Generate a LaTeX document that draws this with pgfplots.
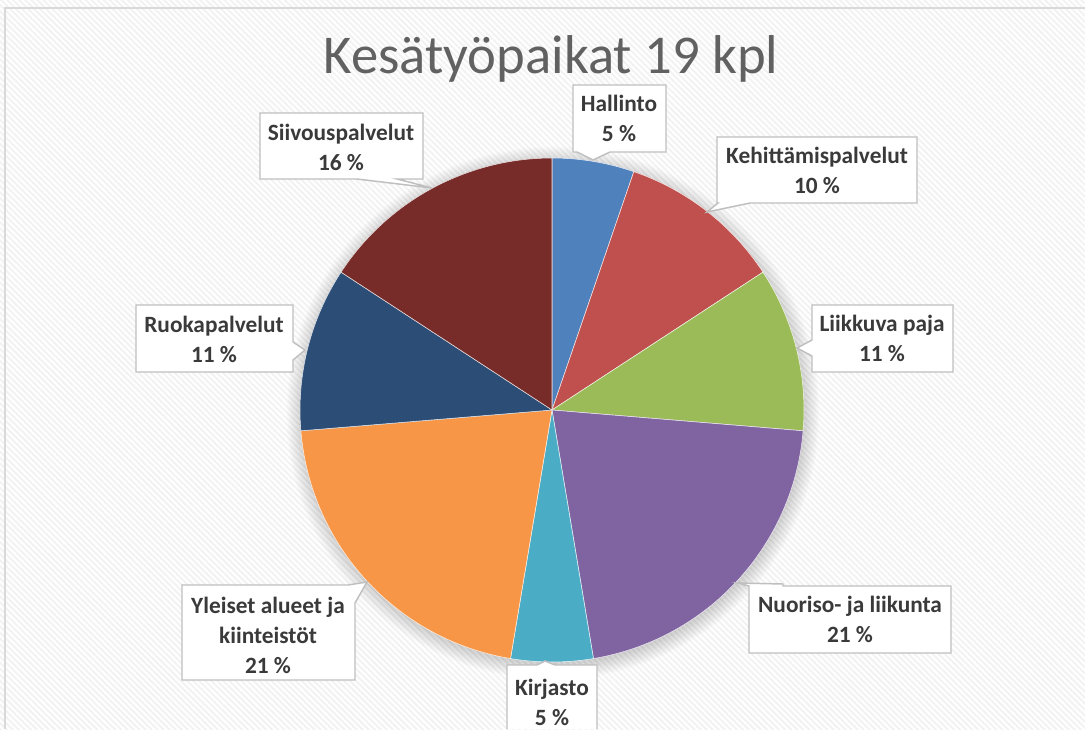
\documentclass[border=0pt]{standalone}
\usepackage{pgfplots}
\pgfplotsset{compat=1.18}
\usepackage{pgfplotstable}
\usepackage{fontspec}
\setmainfont{Carlito}
\usetikzlibrary{patterns.meta}

\definecolor{cHal}{HTML}{4F81BD}
\definecolor{cKeh}{HTML}{C0504D}
\definecolor{cLii}{HTML}{9BBB59}
\definecolor{cNuo}{HTML}{8064A2}
\definecolor{cKir}{HTML}{4BACC6}
\definecolor{cYle}{HTML}{F79646}
\definecolor{cRuo}{HTML}{2C4D75}
\definecolor{cSii}{HTML}{772C2A}
\definecolor{boxline}{HTML}{BFBFBF}
\definecolor{labeltext}{HTML}{3A3A3A}

% jobs per unit, clockwise from 12 o'clock
\pgfplotstableread[col sep=comma]{
name,count,colour
Hallinto,1,cHal
Kehittämispalvelut,2,cKeh
Liikkuva paja,2,cLii
Nuoriso- ja liikunta,4,cNuo
Kirjasto,1,cKir
Yleiset alueet ja kiinteistöt,4,cYle
Ruokapalvelut,2,cRuo
Siivouspalvelut,3,cSii
}\piedata

\tikzset{
  callout/.style={fill=white, draw=boxline, line width=1.1pt, line join=miter},
  lbl/.style={align=center, text=labeltext,
    font=\bfseries\fontsize{17.5}{22.5}\selectfont}
}

\begin{document}
\begin{tikzpicture}
\begin{axis}[
  x=0.75pt, y=0.75pt,
  xmin=0, xmax=1085, ymin=0, ymax=729,
  y dir=reverse,
  hide axis,
  clip=false,
]
\coordinate (SW) at (axis cs:0,729);
\coordinate (NE) at (axis cs:1085,0);

% background
\fill[white] (axis cs:0,0) rectangle (axis cs:1085,729);
\fill[pattern={Lines[angle=-45,distance=3.2pt,line width=1.4pt]},
      pattern color=black!5] (axis cs:0,0) rectangle (axis cs:1085,729);
\draw[black!15, line width=1.5pt] (axis cs:5,729) -- (axis cs:5,8) -- (axis cs:1085,8);

% title
\node[anchor=base, text=black!62, font=\fontsize{41}{49}\selectfont]
  at (axis cs:551,73) {Kesätyöpaikat 19 kpl};

% soft shadow
\pgfplotsinvokeforeach{1,...,14}{
  \fill[black, opacity=0.011] (axis cs:553,413) circle[radius=188pt+#1*0.85pt];
}

% slices
\pgfplotstablegetrowsof{\piedata}
\pgfmathtruncatemacro\lastrow{\pgfplotsretval-1}
\def\total{0}
\pgfplotsforeachungrouped \i in {0,...,\lastrow}{%
  \pgfplotstablegetelem{\i}{count}\of\piedata
  \pgfmathsetmacro\total{\total+\pgfplotsretval}%
}
\def\angA{90}
\pgfplotsforeachungrouped \i in {0,...,\lastrow}{%
  \pgfplotstablegetelem{\i}{count}\of\piedata
  \pgfmathsetmacro\angB{\angA-360*\pgfplotsretval/\total}%
  \pgfplotstablegetelem{\i}{colour}\of\piedata
  \edef\slice{\noexpand\fill[\pgfplotsretval, draw=white!85!\pgfplotsretval, line width=0.4pt]
    (axis cs:552,410) -- ++(\angA:189pt)
    arc[start angle=\angA, end angle=\angB, radius=189pt] -- cycle;}%
  \slice
  \let\angA\angB
}

% callouts
\draw[callout] (axis cs:573,85) -- (axis cs:666,85) -- (axis cs:666,152)
  -- (axis cs:610,152) -- (axis cs:593,160) -- (axis cs:577,152)
  -- (axis cs:573,152) -- cycle;
\node[lbl] at (axis cs:619,118) {Hallinto\\5 \%};

\draw[callout] (axis cs:717,137) -- (axis cs:917,137) -- (axis cs:917,203)
  -- (axis cs:750,203) -- (axis cs:707,212) -- (axis cs:718,203)
  -- (axis cs:717,203) -- cycle;
\node[lbl] at (axis cs:817,170) {Kehittämispalvelut\\10 \%};

\draw[callout] (axis cs:812,305) -- (axis cs:953,305) -- (axis cs:953,372)
  -- (axis cs:812,372) -- (axis cs:812,356) -- (axis cs:797,348)
  -- (axis cs:812,340) -- cycle;
\node[lbl] at (axis cs:882,338) {Liikkuva paja\\11 \%};

\draw[callout] (axis cs:749,653) -- (axis cs:749,586) -- (axis cs:738,583)
  -- (axis cs:783,584) -- (axis cs:783,586) -- (axis cs:951,586)
  -- (axis cs:951,653) -- cycle;
\node[lbl] at (axis cs:850,619) {Nuoriso- ja liikunta\\21 \%};

\fill[white] (axis cs:507,729) -- (axis cs:507,665) -- (axis cs:537,665)
  -- (axis cs:545,661) -- (axis cs:555,665) -- (axis cs:597,665)
  -- (axis cs:597,729) -- cycle;
\draw[boxline, line width=1.1pt, line join=miter] (axis cs:507,729) -- (axis cs:507,665)
  -- (axis cs:537,665) -- (axis cs:545,661) -- (axis cs:555,665)
  -- (axis cs:597,665) -- (axis cs:597,729);
\node[lbl] at (axis cs:552,702) {Kirjasto\\5 \%};

\draw[callout] (axis cs:182,585) -- (axis cs:348,585) -- (axis cs:367,582)
  -- (axis cs:355,603) -- (axis cs:355,680) -- (axis cs:182,680) -- cycle;
\node[lbl] at (axis cs:268,635) {Yleiset alueet ja\\kiinteistöt\\21 \%};

\draw[callout] (axis cs:136,305) -- (axis cs:293,305) -- (axis cs:293,342)
  -- (axis cs:305,350) -- (axis cs:293,360) -- (axis cs:293,372)
  -- (axis cs:136,372) -- cycle;
\node[lbl] at (axis cs:214,339) {Ruokapalvelut\\11 \%};

\draw[callout] (axis cs:260,113) -- (axis cs:423,113) -- (axis cs:423,179)
  -- (axis cs:397,179) -- (axis cs:432,188) -- (axis cs:357,179)
  -- (axis cs:260,179) -- cycle;
\node[lbl] at (axis cs:341,147) {Siivouspalvelut\\16 \%};
\end{axis}
\pgfresetboundingbox
\useasboundingbox (SW) rectangle (NE);
\end{tikzpicture}
\end{document}
